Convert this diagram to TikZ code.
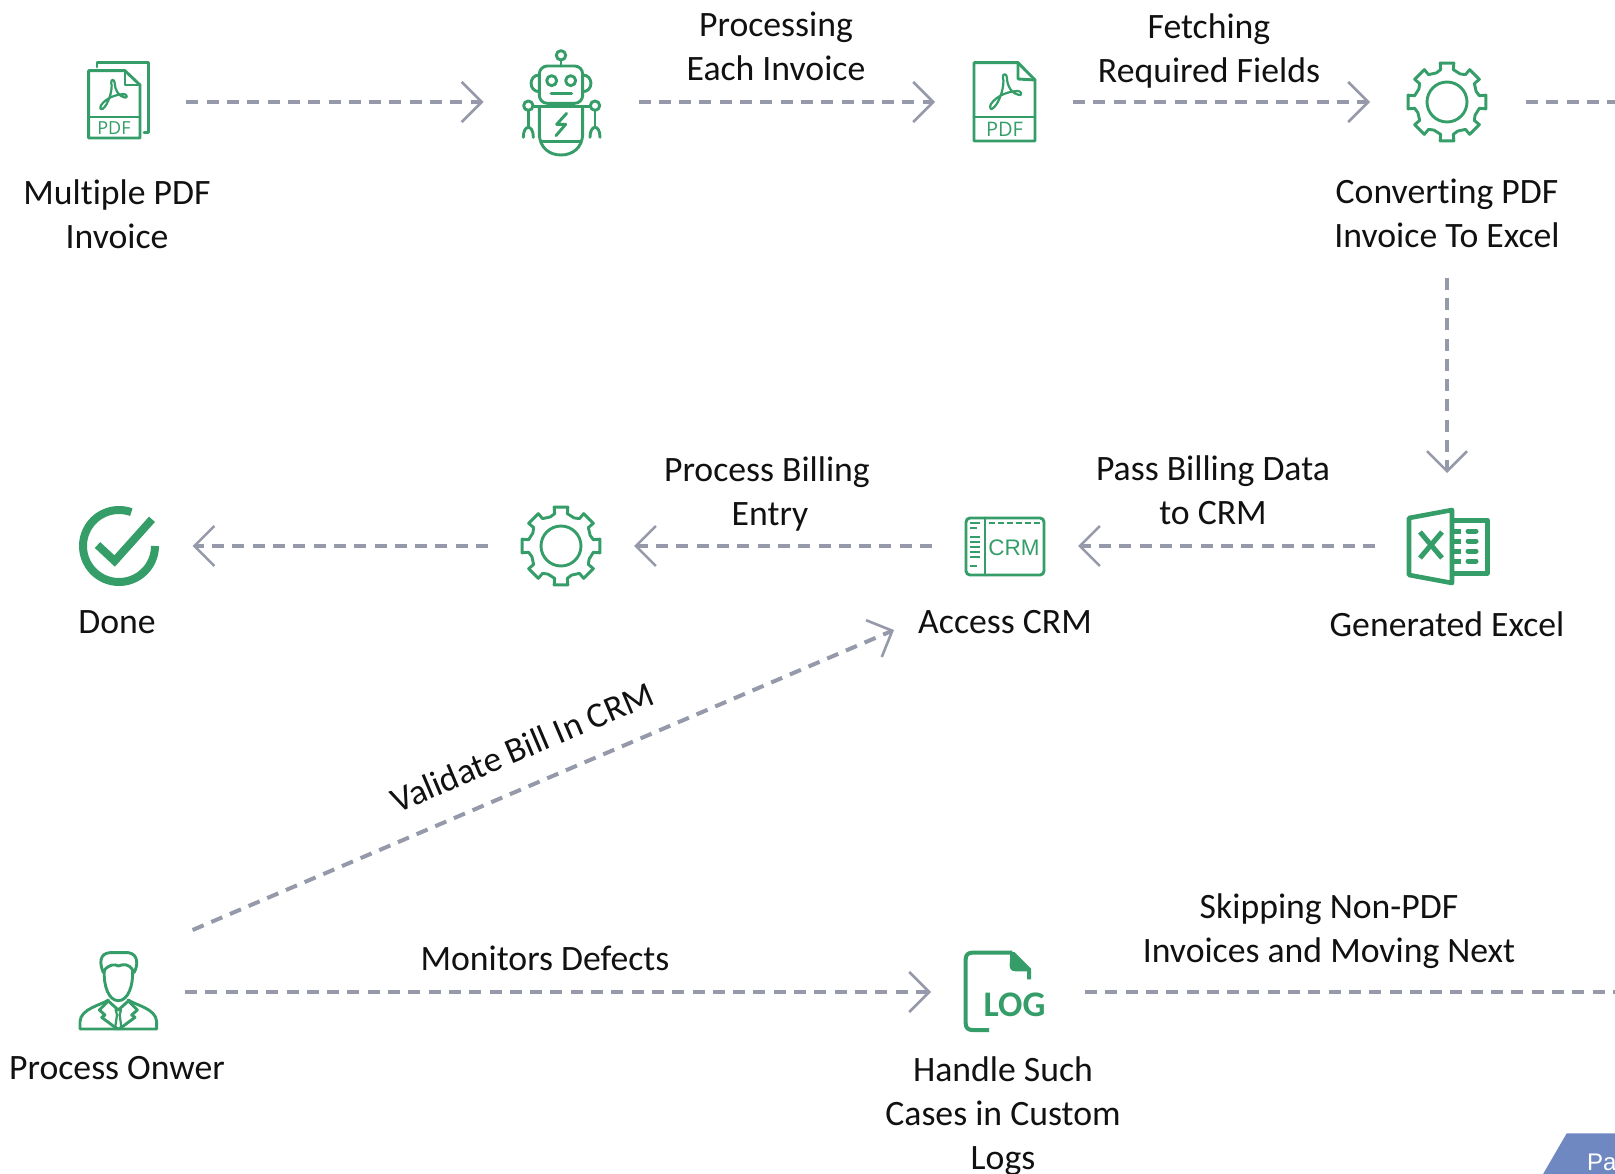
\documentclass[tikz,border=0pt]{standalone}
\usepackage{fontspec}
\setmainfont{Carlito}[Ligatures=NoCommon]
\newfontfamily\libsans{Liberation Sans}
\newfontfamily\opensans{Open Sans}
\usetikzlibrary{arrows.meta,calc}
\definecolor{icongreen}{HTML}{359E68}
\definecolor{dashgray}{HTML}{9699A9}
\definecolor{tabblue}{HTML}{7088C2}
\definecolor{inktext}{HTML}{111111}
\tikzset{
  flow/.style={draw=dashgray,line width=4pt,dash pattern=on 12pt off 8.3pt,
    -{Straight Barb[length=20pt,width=40pt,line width=2.6pt]}},
  flowfree/.style={draw=dashgray,line width=4pt,dash pattern=on 12pt off 8.3pt},
  label/.style={font=\fontsize{35.7}{44}\selectfont,align=center,inner sep=0pt,text=inktext},
  iconbox/.style={inner sep=0pt,outer sep=0pt},
  icon/.style={draw=icongreen,line width=2.9pt,line join=round,line cap=round},
  acro/.pic={
    \draw[draw=icongreen,line width=2.2pt,line join=round]
      (-13,17) .. controls (-5,12) and (0,-8) .. (-2,-14)
      .. controls (-3,-19) and (2,-19) .. (2,-14)
      .. controls (2,-6) and (7,2) .. (14,3)
      .. controls (17,4) and (17,-1) .. (13,-1)
      .. controls (5,-1) and (-8,3) .. (-14,12)
      .. controls (-16,15) and (-14,18) .. (-13,17);
  },
  gearicon/.pic={
    \draw[icon] (-20:31) \foreach \a in {0,45,...,315}{
      -- ({\a-11}:33) -- ({\a-10}:39.5) -- ({\a+10}:39.5) -- ({\a+11}:33) -- ({\a+25}:31)
    } -- cycle;
    \draw[icon] (0,0) circle (20pt);
  },
  roboticon/.pic={
    \begin{scope}[x=0.33333pt,y=-0.33333pt,shift={(-183,-186)}]
      \draw[icon] (183,46) circle (4.7pt);
      \draw[icon] (183,60) -- (183,78);
      \draw[icon,rounded corners=8pt] (118,78) rectangle (248,190);
      \draw[icon] (118,105) .. controls (85,105) and (85,155) .. (118,155);
      \draw[icon] (248,105) .. controls (281,105) and (281,155) .. (248,155);
      \draw[icon] (155,122) circle (5pt);
      \draw[icon] (212,122) circle (5pt);
      \draw[icon] (153,160) -- (215,160);
      \draw[icon] (85,197) circle (4.7pt);
      \draw[icon] (285,197) circle (4.7pt);
      \draw[icon] (99,200) -- (271,200);
      \draw[icon] (118,200) -- (118,280) .. controls (118,325) and (150,345) .. (183,345)
        .. controls (216,345) and (248,325) .. (248,280) -- (248,200);
      \draw[icon] (122,305) -- (244,305);
      \draw[icon] (200,220) -- (170,253) -- (197,253) -- (168,287);
      \draw[icon] (85,212) -- (85,262);
      \draw[icon] (285,212) -- (285,262);
      \draw[icon] (70,292) .. controls (70,252) and (100,252) .. (100,292);
      \draw[icon] (270,292) .. controls (270,252) and (300,252) .. (300,292);
    \end{scope}
  },
  personicon/.pic={
    \begin{scope}[x=0.33333pt,y=-0.33333pt,shift={(-174,-186)}]
      \draw[icon] (130,128) .. controls (118,100) and (118,70) .. (150,68) -- (205,68)
        .. controls (235,72) and (235,105) .. (222,128);
      \draw[icon] (133,120) .. controls (150,102) and (165,102) .. (175,108)
        .. controls (190,102) and (205,100) .. (218,120)
        .. controls (220,165) and (205,212) .. (175,212)
        .. controls (145,212) and (130,165) .. (133,120);
      \draw[icon] (145,210) .. controls (125,225) and (62,235) .. (60,275) -- (60,297) -- (290,297) -- (290,275)
        .. controls (288,235) and (225,225) .. (205,210);
      \draw[icon] (145,213) -- (118,240) -- (135,255) -- (125,262) -- (172,297);
      \draw[icon] (205,213) -- (232,240) -- (215,255) -- (225,262) -- (178,297);
      \draw[icon] (145,213) -- (175,240) -- (205,213);
      \draw[icon,line width=2.2pt] (167,240) -- (183,240) -- (179,255) -- (184,290) -- (175,298) -- (166,290) -- (171,255) -- cycle;
    \end{scope}
  },
  logicon/.pic={
    \begin{scope}[x=0.33333pt,y=-0.33333pt,shift={(-196,-186)}]
      \draw[draw=icongreen,line width=4pt,line join=round]
        (148,300) -- (98,300) .. controls (85,300) and (78,293) .. (78,280) -- (78,88)
        .. controls (78,75) and (85,68) .. (98,68) -- (218,68);
      \fill[icongreen] (212,66) -- (224,66) -- (274,116) -- (274,148) -- (262,148) -- (262,124) -- (228,124)
        .. controls (216,124) and (210,118) .. (210,106) -- cycle;
    \end{scope}
  }
}
\begin{document}
\begin{tikzpicture}[x=1pt,y=-1pt]
\path[use as bounding box] (0,0) rectangle (1615,1174);
\clip (0,0) rectangle (1615,1174);
\fill[white] (0,0) rectangle (1615,1174);

% icon anchor boxes
\node[iconbox,minimum width=136pt,minimum height=80pt] (pdfa) at (118.4,102) {};
\node[iconbox,minimum width=155pt,minimum height=106pt] (robot) at (561,102) {};
\node[iconbox,minimum width=138pt,minimum height=80pt] (pdfb) at (1004,102) {};
\node[iconbox,minimum width=156pt,minimum height=80pt] (geara) at (1448,102) {};
\node[iconbox,minimum width=144pt,minimum height=146pt] (excel) at (1447,546) {};
\node[iconbox,minimum width=146pt,minimum height=168pt] (crm) at (1005,546) {};
\node[iconbox,minimum width=146pt,minimum height=80pt] (gearb) at (561,546) {};
\node[iconbox,minimum width=147pt,minimum height=80pt] (done) at (119,546) {};
\node[iconbox,minimum width=134pt,minimum height=124pt] (person) at (118,992) {};
\node[iconbox,minimum width=154pt,minimum height=80pt] (logf) at (1008,992) {};
\coordinate (edgea) at (1625,102);
\coordinate (edgeb) at (1625,992);

% PDF with back page
\draw[icon] (97,67) -- (97,62.7) -- (148.6,62.7) -- (148.6,132.7) -- (144,132.7);
\draw[icon] (88.6,70.7) -- (125,70.7) -- (140,85) -- (140,138) -- (88.6,138) -- cycle;
\draw[icon] (125,70.7) -- (125,85) -- (140,85);
\draw[icon] (88.6,117) -- (140,117);
\pic[scale=0.85] at (113,95) {acro};
\node[inner sep=0pt,text=icongreen,font=\opensans\fontsize{18}{18}\selectfont] (pdfatext) at (114,128) {PDF};

% robot
\pic at (robot) {roboticon};

% PDF single
\draw[icon] (974,62.7) -- (1018,62.7) -- (1035,80) -- (1035,141) -- (974,141) -- cycle;
\draw[icon] (1018,62.7) -- (1018,79) -- (1035,80);
\draw[icon] (974,117) -- (1035,117);
\pic at (1005,92) {acro};
\node[inner sep=0pt,text=icongreen,font=\opensans\fontsize{20}{20}\selectfont] (pdfbtext) at (1004.5,129.5) {PDF};

% gears
\pic at (1447,102) {gearicon};
\pic at (gearb) {gearicon};

% excel
\draw[draw=icongreen,line width=5pt,line join=round] (1452,520) -- (1487,520) -- (1487,573) -- (1452,573);
\foreach \r in {531,541,551,561}{
  \draw[draw=icongreen,line width=5pt] (1453,\r) -- (1461,\r);
  \draw[draw=icongreen,line width=5pt,line cap=round] (1468,\r) -- (1476,\r);
}
\draw[draw=icongreen,line width=4.6pt,line join=round,fill=white] (1409,518) -- (1452,510) -- (1452,583) -- (1409,575) -- cycle;
\draw[draw=icongreen,line width=5pt] (1420,532) -- (1442,558) (1442,532) -- (1420,558);

% crm
\draw[icon,rounded corners=4pt] (966,518) rectangle (1044,575);
\draw[icon] (985,518) -- (985,575);
\foreach \r in {523,537,542,547,552,557}{\draw[draw=icongreen,line width=2.4pt] (970,\r) -- (980,\r);}
\foreach \r in {528,566}{\draw[draw=icongreen,line width=2.4pt] (970,\r) -- (977,\r);}
\draw[draw=icongreen,line width=2.6pt,dash pattern=on 6pt off 3pt] (989,523) -- (1041,523);
\node[inner sep=0pt,text=icongreen,font=\libsans\fontsize{22.5}{22.5}\selectfont] (crmtext) at (1014,548) {CRM};

% done
\draw[draw=icongreen,line width=8pt] plot[domain=0:290,samples=60] ({119+36*cos(\x)},{546+36*sin(\x)});
\draw[draw=icongreen,line width=8pt,line join=miter] (97.5,545) -- (114.6,561) -- (152,519.3);

% person
\pic at (person) {personicon};

% log
\pic at (1005,992) {logicon};
\node[inner sep=0pt,text=icongreen,font=\bfseries\fontsize{36}{36}\selectfont] (logtext) at (1014.5,1005) {LOG};

% texts
\node[label] (t1) at (117,214) {Multiple PDF\\Invoice};
\node[label] (t2) at (776,46) {Processing\\Each Invoice};
\node[label] (t3) at (1209,50.5) {Fetching\\Required Fields};
\node[label] (t4) at (1447,213) {Converting PDF\\Invoice To Excel};
\node[label] (t5) at (767,493.5) {Process Billing\\\hspace*{6pt}Entry};
\node[label] (t6) at (1213,490) {Pass Billing Data\\to CRM};
\node[label] (t7) at (117,622) {Done};
\node[label] (t8) at (1005,622) {Access CRM};
\node[label] (t9) at (1447,624) {Generated Excel};
\node[label,rotate=23] (t10) at (522,747) {Validate Bill In CRM};
\node[label] (t11) at (1329,931) {Skipping Non-PDF\\Invoices and Moving Next};
\node[label] (t12) at (545,958) {Monitors Defects};
\node[label] (t13) at (117,1068) {Process Onwer};
\node[label] (t14) at (1003,1116) {Handle Such\\Cases in Custom\\Logs};

% connectors
\draw[flow] (pdfa.east) -- (robot.west);
\draw[flow] (robot.east) -- (pdfb.west);
\draw[flow] (pdfb.east) -- (geara.west);
\draw[flowfree] (geara.east) -- (edgea);
\draw[flow,shorten <=30pt] (t4.south) -- (excel.north);
\draw[flow] (excel.west) -- (crm.east);
\draw[flow] (crm.west) -- (gearb.east);
\draw[flow] (gearb.west) -- (done.east);
\draw[flow] ([xshift=7.6pt]person.north east) -- ([xshift=-38pt]crm.south west);
\draw[flow] (person.east) -- (logf.west);
\draw[flowfree] (logf.east) -- (edgeb);

% tab
\fill[tabblue] (1566.7,1133.3) -- (1625,1133.3) -- (1625,1184) -- (1537.3,1184) -- cycle;
\node[anchor=base west,inner sep=0pt,text=white,font=\libsans\fontsize{24}{24}\selectfont] (tab) at (1587,1170) {Pa};
\end{tikzpicture}
\end{document}
